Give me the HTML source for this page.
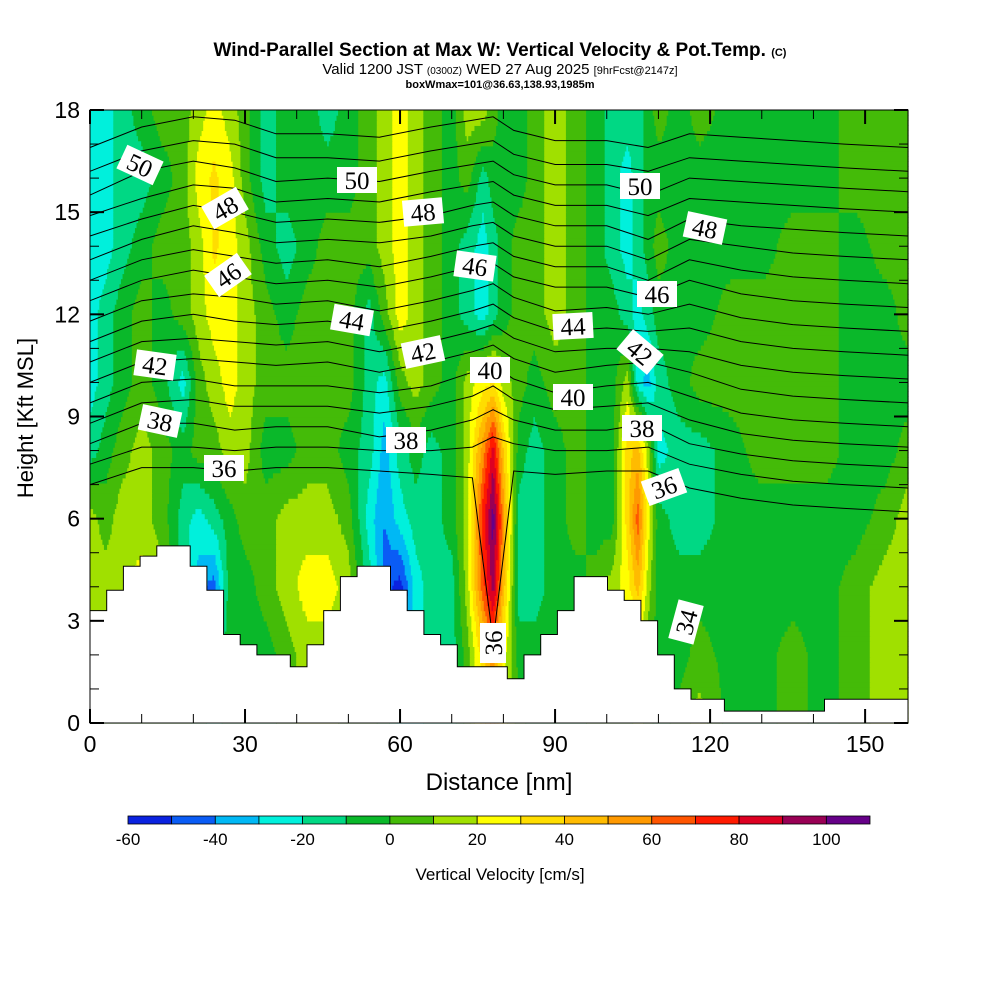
<!DOCTYPE html>
<html><head><meta charset="utf-8">
<style>
body{margin:0;background:#fff;}
svg{display:block;font-family:"Liberation Sans",sans-serif;}
</style></head>
<body>
<svg id="chart" width="1000" height="1000" viewBox="0 0 1000 1000">
<rect x="0" y="0" width="1000" height="1000" fill="#fff"/>
<g>
<text x="500" y="56" text-anchor="middle" font-size="19" font-weight="bold">Wind-Parallel Section at Max W: Vertical Velocity &amp; Pot.Temp. <tspan font-size="11">(C)</tspan></text>
<text x="500" y="74" text-anchor="middle" font-size="15">Valid 1200 JST <tspan font-size="10">(0300Z)</tspan> WED 27 Aug 2025 <tspan font-size="11">[9hrFcst@2147z]</tspan></text>
<text x="500" y="88" text-anchor="middle" font-size="11" font-weight="bold">boxWmax=101@36.63,138.93,1985m</text>
</g>
<g id="fill"></g>
<g id="contours"></g>
<g id="terrain"></g>
<g id="labels"></g>
<g id="axes"></g>
<g id="cbar"></g>
</svg>
<script>
const wX=[0,3,6,10,14,18,21,24,27,30,34,38,42,46,50,54,57,60,63,66,70,73,76,78,80,83,86,90,94,98,101,104,106,108,110,114,118,124,130,136,142,148,154,158.3];
const wZ=[0,2,4,6,8,10,12,14,16,18];
const w0=[5,5,5,5,5,5,-5,-15,-5,-5,-5,5,15,15,5,5,-5,-25,-25,-15,-15,5,35,55,25,5,-5,-5,-5,5,5,5,15,5,-5,5,15,-5,-5,5,-5,5,15,15];
const w2=[5,5,5,5,5,5,-5,-15,-5,-5,-5,5,15,15,5,5,-5,-25,-25,-15,-15,5,35,55,25,-5,-5,-5,-5,5,5,5,15,5,-5,-5,5,-5,-5,5,-5,5,15,15];
const w4=[15,15,15,25,15,-15,-35,-45,-5,-5,5,15,25,25,15,-15,-45,-55,-25,-15,-15,15,65,95,45,-15,-15,-5,-5,5,15,25,45,15,-5,-5,-5,-5,-5,-5,-5,5,15,15];
const w6=[15,5,15,15,5,-15,-25,-15,-5,5,5,15,15,15,5,-25,-40,-25,-15,-15,-5,15,75,105,55,-15,-15,-5,5,-5,-5,35,65,25,-5,-15,-15,-5,-5,-5,-5,-5,5,15];
const w8=[-15,-5,5,15,5,-5,5,5,15,15,-5,-5,5,5,-5,-15,-35,-15,-5,-15,-5,15,55,85,40,-5,-15,-5,5,-5,-5,35,45,15,-25,-15,-15,-5,5,5,5,-5,-5,5];
const w10=[-25,-15,-5,5,-5,-25,5,15,25,15,5,5,5,5,5,-15,-25,5,15,5,-5,15,25,32,15,5,-5,5,5,-5,-5,15,-25,-35,-15,-5,5,5,5,5,5,-5,-5,-5];
const w12=[-25,-15,-5,5,-5,5,15,25,25,15,5,-5,5,5,5,-15,5,25,15,5,-5,-15,-25,-15,-5,5,5,15,5,-5,-5,-15,-25,-15,-5,-5,-5,5,5,5,5,-5,-5,5];
const w14=[-25,-25,-15,-5,5,5,15,32,25,15,-5,-15,-5,5,5,5,15,25,15,5,-5,-15,-25,-15,-5,5,5,15,5,-5,-15,-25,-15,-5,5,-5,-5,-5,-5,5,5,-5,5,5];
const w16=[-25,-25,-15,-15,-5,5,25,32,25,5,-15,-5,-5,-5,-5,5,15,25,15,5,-5,5,-15,-5,-5,-5,5,15,5,-5,-15,-25,-15,-5,-5,-5,-5,-5,-5,-5,-5,5,5,5];
const w18=[-25,-25,-15,-5,5,5,15,25,15,5,-15,-5,-5,-15,-5,5,15,25,15,5,-5,15,15,5,-5,-5,5,15,5,-5,-15,-15,-15,-5,5,-5,5,-5,-5,-5,-5,5,5,5];
const wRows=[w0,w2,w4,w6,w8,w10,w12,w14,w16,w18];
const terrain=[3.3,3.9,4.6,4.9,5.2,5.2,4.6,3.9,2.6,2.3,2.0,2.0,1.65,2.3,3.3,4.3,4.6,4.6,3.9,3.3,2.6,2.3,1.65,1.65,1.65,1.3,2.0,2.6,3.3,4.3,4.3,3.9,3.6,3.0,2.0,1.0,0.7,0.7,0.35,0.35,0.35,0.35,0.35,0.35,0.7,0.7,0.7,0.7,0.7];
const cX=[0,10,20,28,36,46,56,66,74,78,82,90,100,108,116,126,136,146,158.3];
const thetaLevels=[36,37,38,39,40,41,42,43,44,45,46,47,48,49,50,51,52];
const t36=[7.0,7.5,7.5,7.4,7.5,7.5,7.4,7.3,7.2,2.4,7.4,7.3,7.4,7.4,6.9,6.6,6.4,6.3,6.2];
const t37=[7.6,8.1,8.1,8.0,8.1,8.1,8.0,8.0,8.1,8.4,8.2,8.0,8.0,8.1,7.6,7.3,7.1,7.0,6.9];
const t38=[8.2,8.8,8.8,8.6,8.7,8.7,8.4,8.6,8.9,9.2,8.9,8.6,8.6,8.8,8.2,7.9,7.7,7.6,7.5];
const t39=[8.8,9.4,9.5,9.3,9.3,9.3,9.1,9.3,9.6,9.9,9.5,9.2,9.3,9.4,8.9,8.5,8.3,8.2,8.1];
const t40=[9.4,10.0,10.1,9.9,9.9,9.9,9.7,9.9,10.3,10.5,10.1,9.7,9.9,10.0,9.6,9.1,8.9,8.8,8.7];
const t41=[10.0,10.6,10.7,10.6,10.5,10.6,10.3,10.6,10.9,11.1,10.7,10.3,10.5,10.6,10.3,9.8,9.6,9.5,9.4];
const t42=[10.6,11.2,11.3,11.2,11.1,11.2,10.9,11.2,11.5,11.7,11.3,10.9,11.0,11.0,10.9,10.5,10.3,10.2,10.1];
const t43=[11.2,11.8,12.0,11.8,11.7,11.8,11.5,11.8,12.1,12.3,11.9,11.5,11.6,11.5,11.6,11.2,11.0,10.9,10.8];
const t44=[11.8,12.4,12.6,12.5,12.3,12.4,12.1,12.4,12.7,12.9,12.5,12.1,12.2,12.0,12.3,11.9,11.7,11.6,11.5];
const t45=[12.4,13.0,13.3,13.1,12.9,13.0,12.8,13.1,13.4,13.5,13.1,12.8,12.8,12.5,13.0,12.6,12.4,12.3,12.2];
const t46=[13.0,13.6,13.9,13.7,13.5,13.6,13.4,13.7,14.0,14.1,13.7,13.4,13.4,13.0,13.6,13.3,13.1,13.0,12.9];
const t47=[13.6,14.2,14.6,14.4,14.1,14.2,14.1,14.3,14.6,14.7,14.3,14.0,14.0,13.6,14.2,14.0,13.8,13.7,13.6];
const t48=[14.3,14.8,15.2,15.0,14.7,14.8,14.7,14.9,15.2,15.3,14.9,14.6,14.6,14.2,14.8,14.6,14.5,14.4,14.3];
const t49=[14.9,15.4,15.8,15.7,15.3,15.4,15.3,15.6,15.8,15.9,15.5,15.2,15.2,14.9,15.4,15.3,15.2,15.1,15.0];
const t50=[15.5,16.2,16.5,16.3,15.9,16.0,15.9,16.2,16.4,16.5,16.1,15.8,15.8,15.5,16.0,15.9,15.8,15.7,15.6];
const t51=[16.2,16.8,17.1,17.0,16.6,16.6,16.5,16.8,17.0,17.1,16.7,16.4,16.4,16.2,16.6,16.5,16.4,16.3,16.2];
const t52=[16.9,17.5,17.8,17.7,17.3,17.3,17.2,17.5,17.7,17.8,17.4,17.1,17.1,16.9,17.3,17.2,17.1,17.0,16.9];
const thetaLines=[t36,t37,t38,t39,t40,t41,t42,t43,t44,t45,t46,t47,t48,t49,t50,t51,t52];
const xTicks=[0,30,60,90,120,150];
const yTicks=[0,3,6,9,12,15,18];
const cbColors=['#0a22e0','#0a5cf5','#00b8f5','#00f0dc','#00d884','#0ab82a','#44bb08','#a0e000','#ffff00','#ffdd00','#ffbb00','#ff9900','#ff5500','#ff1a00','#dd0022','#990055','#660088'];
const cbTicks=[-60,-40,-20,0,20,40,60,80,100];

const NS='http://www.w3.org/2000/svg';
const X0=90,X1=908,Y0=723,Y1=110,XMAX=158.3,ZMAX=18;
function sx(v){return X0+v*(X1-X0)/XMAX;}
function sy(v){return Y0-v*(Y0-Y1)/ZMAX;}
function mk(tag,attrs,parent){const e=document.createElementNS(NS,tag);for(const k in attrs)e.setAttribute(k,attrs[k]);parent.appendChild(e);return e;}
function seg(arr,v){let i=0;while(i<arr.length-2&&v>arr[i+1])i++;const t=(v-arr[i])/(arr[i+1]-arr[i]);return [i,Math.max(0,Math.min(1,t))];}
function wAt(x,z){const [i,tx]=seg(wX,x);const [j,tz]=seg(wZ,z);
 const a=wRows[j][i],b=wRows[j][i+1],c=wRows[j+1][i],d=wRows[j+1][i+1];
 return (a*(1-tx)+b*tx)*(1-tz)+(c*(1-tx)+d*tx)*tz;}
function bin(v){let k=Math.floor((v+60)/10);return Math.max(0,Math.min(16,k));}

const fill=document.getElementById('fill');
const dz=0.15,dx=0.3;
for(let z=0;z<ZMAX-1e-6;z+=dz){
 let runStart=0,runBin=null;
 const nx=Math.ceil(XMAX/dx);
 for(let k=0;k<=nx;k++){
  const x=Math.min(k*dx,XMAX);
  const b=k<nx?bin(wAt(x+dx/2,z+dz/2)):-1;
  if(b!==runBin){
   if(runBin!==null){
    const r=mk('rect',{x:sx(runStart).toFixed(2),y:sy(Math.min(z+dz,ZMAX)).toFixed(2),width:(sx(x)-sx(runStart)+0.6).toFixed(2),height:(sy(z)-sy(Math.min(z+dz,ZMAX))+0.6).toFixed(2),fill:cbColors[runBin]},fill);
    
    
   }
   runBin=b;runStart=x;
  }
 }
}
const cg=document.getElementById('contours');
thetaLines.forEach((line,li)=>{
 let d='';line.forEach((h,k)=>{d+=(k?'L':'M')+sx(cX[k]).toFixed(1)+','+sy(h).toFixed(1);});
 const p=mk('path',{d:d,fill:'none',stroke:'#000','stroke-width':1},cg);
 
 
});
const tg=document.getElementById('terrain');
const stepW=XMAX/terrain.length;
let td='M'+sx(0)+','+sy(0),to='';
terrain.forEach((h,i)=>{
 const a=sx(i*stepW),b=sx((i+1)*stepW);
 td+='L'+a.toFixed(1)+','+sy(h).toFixed(1)+'L'+b.toFixed(1)+','+sy(h).toFixed(1);
 to+=(i?'L':'M')+a.toFixed(1)+','+sy(h).toFixed(1)+'L'+b.toFixed(1)+','+sy(h).toFixed(1);
});
td+='L'+sx(XMAX)+','+sy(0)+'Z';
const tp=mk('path',{d:td,fill:'#fff'},tg);


const tl=mk('path',{d:to,fill:'none',stroke:'#000','stroke-width':1},tg);


const labs=[["50",140,165,25],["48",225,208,-30],["46",228,275,-35],["42",155,365,8],["38",160,421,12],["36",224,468,0],["50",357,180,0],["48",423,212,-5],["44",352,320,10],["42",423,352,-12],["46",475,266,8],["40",490,370,0],["38",406,440,0],["36",493,643,-90],["44",573,326,-3],["40",573,397,0],["50",640,186,0],["48",705,228,12],["46",657,294,0],["42",640,352,40],["38",642,428,0],["36",664,487,-20],["34",686,622,-75]];
const lg=document.getElementById('labels');
labs.forEach(l=>{
 const g=mk('g',{transform:`translate(${l[1]},${l[2]}) rotate(${l[3]})`},lg);
 
 
 mk('rect',{x:-20,y:-13,width:40,height:26,fill:'#fff'},g);
 const t=mk('text',{x:0,y:9,'text-anchor':'middle','font-size':25,'font-family':'"Liberation Serif",serif'},g);
 t.textContent=l[0];
});
const ag=document.getElementById('axes');
const fr=mk('rect',{x:X0,y:Y1,width:X1-X0,height:Y0-Y1,fill:'none',stroke:'#000','stroke-width':1},ag);

for(let v=0;v<=XMAX;v+=10){const L=v%30===0?14:9;
 mk('line',{x1:sx(v),x2:sx(v),y1:Y0,y2:Y0-L,stroke:'#000','stroke-width':v%30===0?2:1},ag);
 mk('line',{x1:sx(v),x2:sx(v),y1:Y1,y2:Y1+L,stroke:'#000','stroke-width':v%30===0?2:1},ag);}
for(let v=0;v<=ZMAX;v+=1){const L=v%3===0?14:9;
 mk('line',{x1:X0,x2:X0+L,y1:sy(v),y2:sy(v),stroke:'#000','stroke-width':v%3===0?2:1},ag);
 mk('line',{x1:X1,x2:X1-L,y1:sy(v),y2:sy(v),stroke:'#000','stroke-width':v%3===0?2:1},ag);}
xTicks.forEach(v=>{const t=mk('text',{x:sx(v),y:752,'text-anchor':'middle','font-size':23},ag);t.textContent=v;
 });
yTicks.forEach(v=>{const t=mk('text',{x:80,y:sy(v)+8,'text-anchor':'end','font-size':23},ag);t.textContent=v;
 });
const xt=mk('text',{x:499,y:790,'text-anchor':'middle','font-size':24},ag);xt.textContent='Distance [nm]';

const yt=mk('text',{x:0,y:0,'text-anchor':'middle','font-size':22,transform:'translate(33,418) rotate(-90)'},ag);yt.textContent='Height [Kft MSL]';

const cb=document.getElementById('cbar');
const cbx0=128,cbx1=870,cbw=(cbx1-cbx0)/17;
cbColors.forEach((c,i)=>{const r=mk('rect',{x:cbx0+i*cbw,y:816,width:cbw,height:8,fill:c,stroke:'#000','stroke-width':0.8},cb);
 });
cbTicks.forEach(v=>{const t=mk('text',{x:cbx0+(v+60)/10*cbw,y:845,'text-anchor':'middle','font-size':17},cb);t.textContent=v;
 });
const ct=mk('text',{x:500,y:880,'text-anchor':'middle','font-size':17},cb);ct.textContent='Vertical Velocity [cm/s]';

</script>
</body></html>
